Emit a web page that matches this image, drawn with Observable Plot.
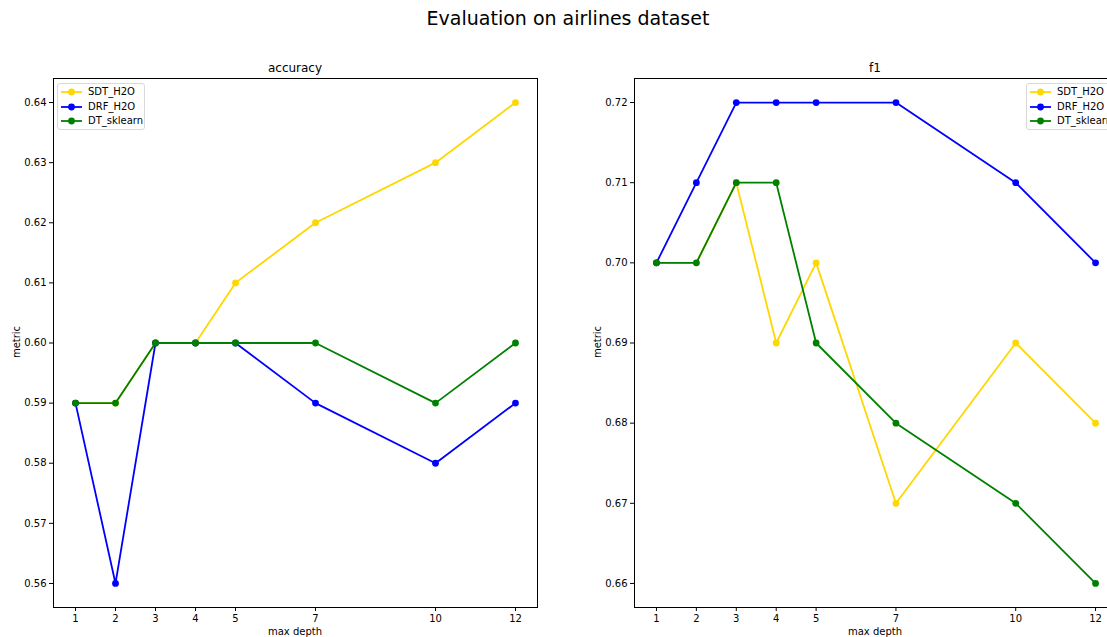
<!DOCTYPE html>
<html>
<head>
<meta charset="utf-8">
<script src="https://cdn.jsdelivr.net/npm/d3@7"></script>
<script src="https://cdn.jsdelivr.net/npm/@observablehq/plot@0.6"></script>
<style>
  html, body { margin: 0; padding: 0; background: #fff; overflow: hidden; }
  #fig { position: relative; width: 1107px; height: 637px; overflow: hidden; font-family: "DejaVu Sans", sans-serif; color: #000; }
  .abs { position: absolute; white-space: nowrap; }
  .panel { position: absolute; }
  .panel svg { max-width: none !important; }
  .legend { position: absolute; background: rgba(255,255,255,0.8); border: 1px solid #d9d9d9; border-radius: 3px; font-size: 10px; }
  .legend .row { position: absolute; left: 0; height: 14px; }
</style>
</head>
<body>
<div id="fig"></div>
<script>
// ---- data ----
const depths = [1, 2, 3, 4, 5, 7, 10, 12];
const seriesNames = ["SDT_H2O", "DRF_H2O", "DT_sklearn"];
const seriesColors = ["#ffd700", "#0000ff", "#008000"];

const accSDT = [0.59, 0.59, 0.60, 0.60, 0.61, 0.62, 0.63, 0.64];
const accDRF = [0.59, 0.56, 0.60, 0.60, 0.60, 0.59, 0.58, 0.59];
const accDT  = [0.59, 0.59, 0.60, 0.60, 0.60, 0.60, 0.59, 0.60];

const f1SDT = [0.70, 0.70, 0.71, 0.69, 0.70, 0.67, 0.69, 0.68];
const f1DRF = [0.70, 0.71, 0.72, 0.72, 0.72, 0.72, 0.71, 0.70];
const f1DT  = [0.70, 0.70, 0.71, 0.71, 0.69, 0.68, 0.67, 0.66];

const accTicks = [0.56, 0.57, 0.58, 0.59, 0.60, 0.61, 0.62, 0.63, 0.64];
const f1Ticks = [0.66, 0.67, 0.68, 0.69, 0.70, 0.71, 0.72];

const title = "Evaluation on airlines dataset";
const panelTitles = ["accuracy", "f1"];
const xLabel = "max depth";
const yLabel = "metric";

// ---- build ----
const fig = document.getElementById("fig");

function addText(txt, x, y, size, rotate) {
  const d = document.createElement("div");
  d.className = "abs";
  d.textContent = txt;
  d.style.fontSize = size + "px";
  d.style.left = x + "px";
  d.style.top = y + "px";
  d.style.transform = "translate(-50%, -50%)" + (rotate ? " rotate(-90deg)" : "");
  fig.appendChild(d);
}

function toRows(values) {
  return depths.map((d, i) => ({depth: d, value: values[i]}));
}

function panel(seriesValues, yDomain, yTicks, left, width, mLeft, mRight) {
  const marks = [];
  seriesValues.forEach((vals, k) => {
    const rows = toRows(vals);
    marks.push(Plot.line(rows, {x: "depth", y: "value", stroke: seriesColors[k], strokeWidth: 1.8}));
    marks.push(Plot.dot(rows, {x: "depth", y: "value", fill: seriesColors[k], r: 3.4, stroke: "none"}));
  });
  const svg = Plot.plot({
    width, height: 577,
    marginLeft: mLeft, marginRight: mRight, marginTop: 18, marginBottom: 30,
    style: {fontFamily: "DejaVu Sans", fontSize: "10px", color: "#000", background: "transparent", overflow: "visible", maxWidth: "none"},
    x: {domain: [0.45, 12.55]},
    y: {domain: yDomain},
    marks: [
      Plot.axisX({ticks: depths, tickSize: 4, tickPadding: 3, label: null, tickFormat: d3.format("d")}),
      Plot.axisY({ticks: yTicks, tickSize: 4, tickPadding: 3, label: null, tickFormat: d3.format(".2f")}),
      ...marks,
      Plot.frame({stroke: "#000", strokeWidth: 1})
    ]
  });
  const wrap = document.createElement("div");
  wrap.className = "panel";
  wrap.style.left = left + "px";
  wrap.style.top = "60px";
  wrap.style.width = width + "px";
  wrap.style.height = "577px";
  wrap.appendChild(svg);
  fig.appendChild(wrap);
}

function legend(x, y) {
  const box = document.createElement("div");
  box.className = "legend";
  box.style.left = x + "px";
  box.style.top = y + "px";
  box.style.width = "86px";
  box.style.height = "45px";
  seriesNames.forEach((name, k) => {
    const row = document.createElement("div");
    row.className = "row";
    row.style.top = (1 + k * 14.6) + "px";
    row.style.width = "100%";
    row.innerHTML =
      `<svg width="26" height="14" style="position:absolute;left:2px;top:0">` +
      `<line x1="1" y1="7" x2="22" y2="7" stroke="${seriesColors[k]}" stroke-width="1.8"/>` +
      `<circle cx="11.5" cy="7" r="3.4" fill="${seriesColors[k]}"/></svg>` +
      `<span style="position:absolute;left:30px;top:0;line-height:14px">${name}</span>`;
    box.appendChild(row);
  });
  fig.appendChild(box);
}

panel([accSDT, accDRF, accDT], [0.556, 0.644], accTicks, 0, 553, 53, 16);
panel([f1SDT, f1DRF, f1DT], [0.657, 0.723], f1Ticks, 560, 567, 74, 10);

addText(title, 568, 18, 19);
addText(panelTitles[0], 295, 68, 12);
addText(panelTitles[1], 875, 68, 12);
addText(xLabel, 295, 631, 10);
addText(xLabel, 875, 631, 10);
addText(yLabel, 16, 342, 10, true);
addText(yLabel, 597, 342, 10, true);

legend(57, 83);
legend(1026, 83);
</script>
</body>
</html>
